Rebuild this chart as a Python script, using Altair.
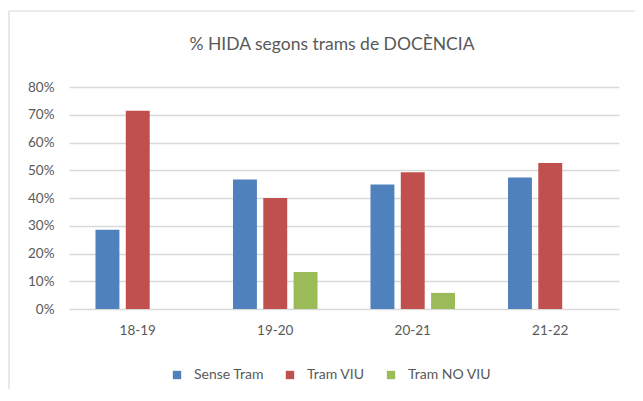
import altair as alt
import pandas as pd

categories = ["18-19", "19-20", "20-21", "21-22"]
series = ["Sense Tram", "Tram VIU", "Tram NO VIU"]
sense_tram = [0.286, 0.467, 0.449, 0.474]
tram_viu = [0.714, 0.400, 0.493, 0.526]
tram_no_viu = [0.0, 0.133, 0.058, 0.0]
colors = ["#4F81BD", "#C0504D", "#9BBB59"]
y_ticks = [0.0, 0.1, 0.2, 0.3, 0.4, 0.5, 0.6, 0.7, 0.8]
title_text = "% HIDA segons trams de DOCÈNCIA"

rows = []
for i, c in enumerate(categories):
    for s, vals in zip(series, [sense_tram, tram_viu, tram_no_viu]):
        rows.append({"Curs": c, "Serie": s, "Valor": vals[i]})
df = pd.DataFrame(rows)

FONT = "Lato"
GREY = "#595959"

bars = alt.Chart(df).mark_bar().encode(
    x=alt.X("Curs:N", sort=categories, title=None,
            scale=alt.Scale(paddingInner=0, paddingOuter=0),
            axis=alt.Axis(labelAngle=0, ticks=False, domain=False,
                          labelPadding=14, labelFontSize=13.5, labelColor=GREY,
                          labelFont=FONT)),
    xOffset=alt.XOffset("Serie:N", sort=series,
                        scale=alt.Scale(paddingInner=0.21, paddingOuter=0.874)),
    y=alt.Y("Valor:Q", title=None,
            scale=alt.Scale(domain=[0, 0.8], nice=False),
            axis=alt.Axis(values=y_ticks, format=".0%", ticks=False, domain=False,
                          gridColor="#D9D9D9", gridWidth=1.5,
                          labelPadding=15, labelFontSize=13.5, labelColor=GREY,
                          labelFont=FONT)),
    color=alt.Color("Serie:N", sort=series,
                    scale=alt.Scale(domain=series, range=colors),
                    legend=alt.Legend(title=None, orient="none", legendX=101, legendY=281,
                                      direction="horizontal", symbolType="square",
                                      symbolSize=70, symbolStrokeWidth=0,
                                      labelFontSize=14, labelColor=GREY, labelFont=FONT,
                                      columnPadding=19, labelOffset=10)),
)

one = alt.Data(values=[{"t": title_text}])

title = alt.Chart(one).mark_text(
    font=FONT, fontSize=17.5, color=GREY, align="center", baseline="alphabetic"
).encode(text="t:N", x=alt.value(263), y=alt.value(-37))

border = alt.Chart(one).mark_rule(color="#D9D9D9", strokeWidth=1.2).encode(
    x=alt.value(-60), x2=alt.value(600), y=alt.value(-76)
)
border_left = alt.Chart(one).mark_rule(color="#D9D9D9", strokeWidth=1.2).encode(
    x=alt.value(-60), y=alt.value(-76), y2=alt.value(400)
)

chart = alt.layer(bars, title, border, border_left).properties(
    width=550,
    height=222,
    autosize=alt.AutoSizeParams(type="none"),
    padding={"left": 61, "top": 79, "right": 16, "bottom": 80},
).configure_view(stroke=None)

chart.save("out.html", embed_options={"renderer": "svg", "actions": False})
